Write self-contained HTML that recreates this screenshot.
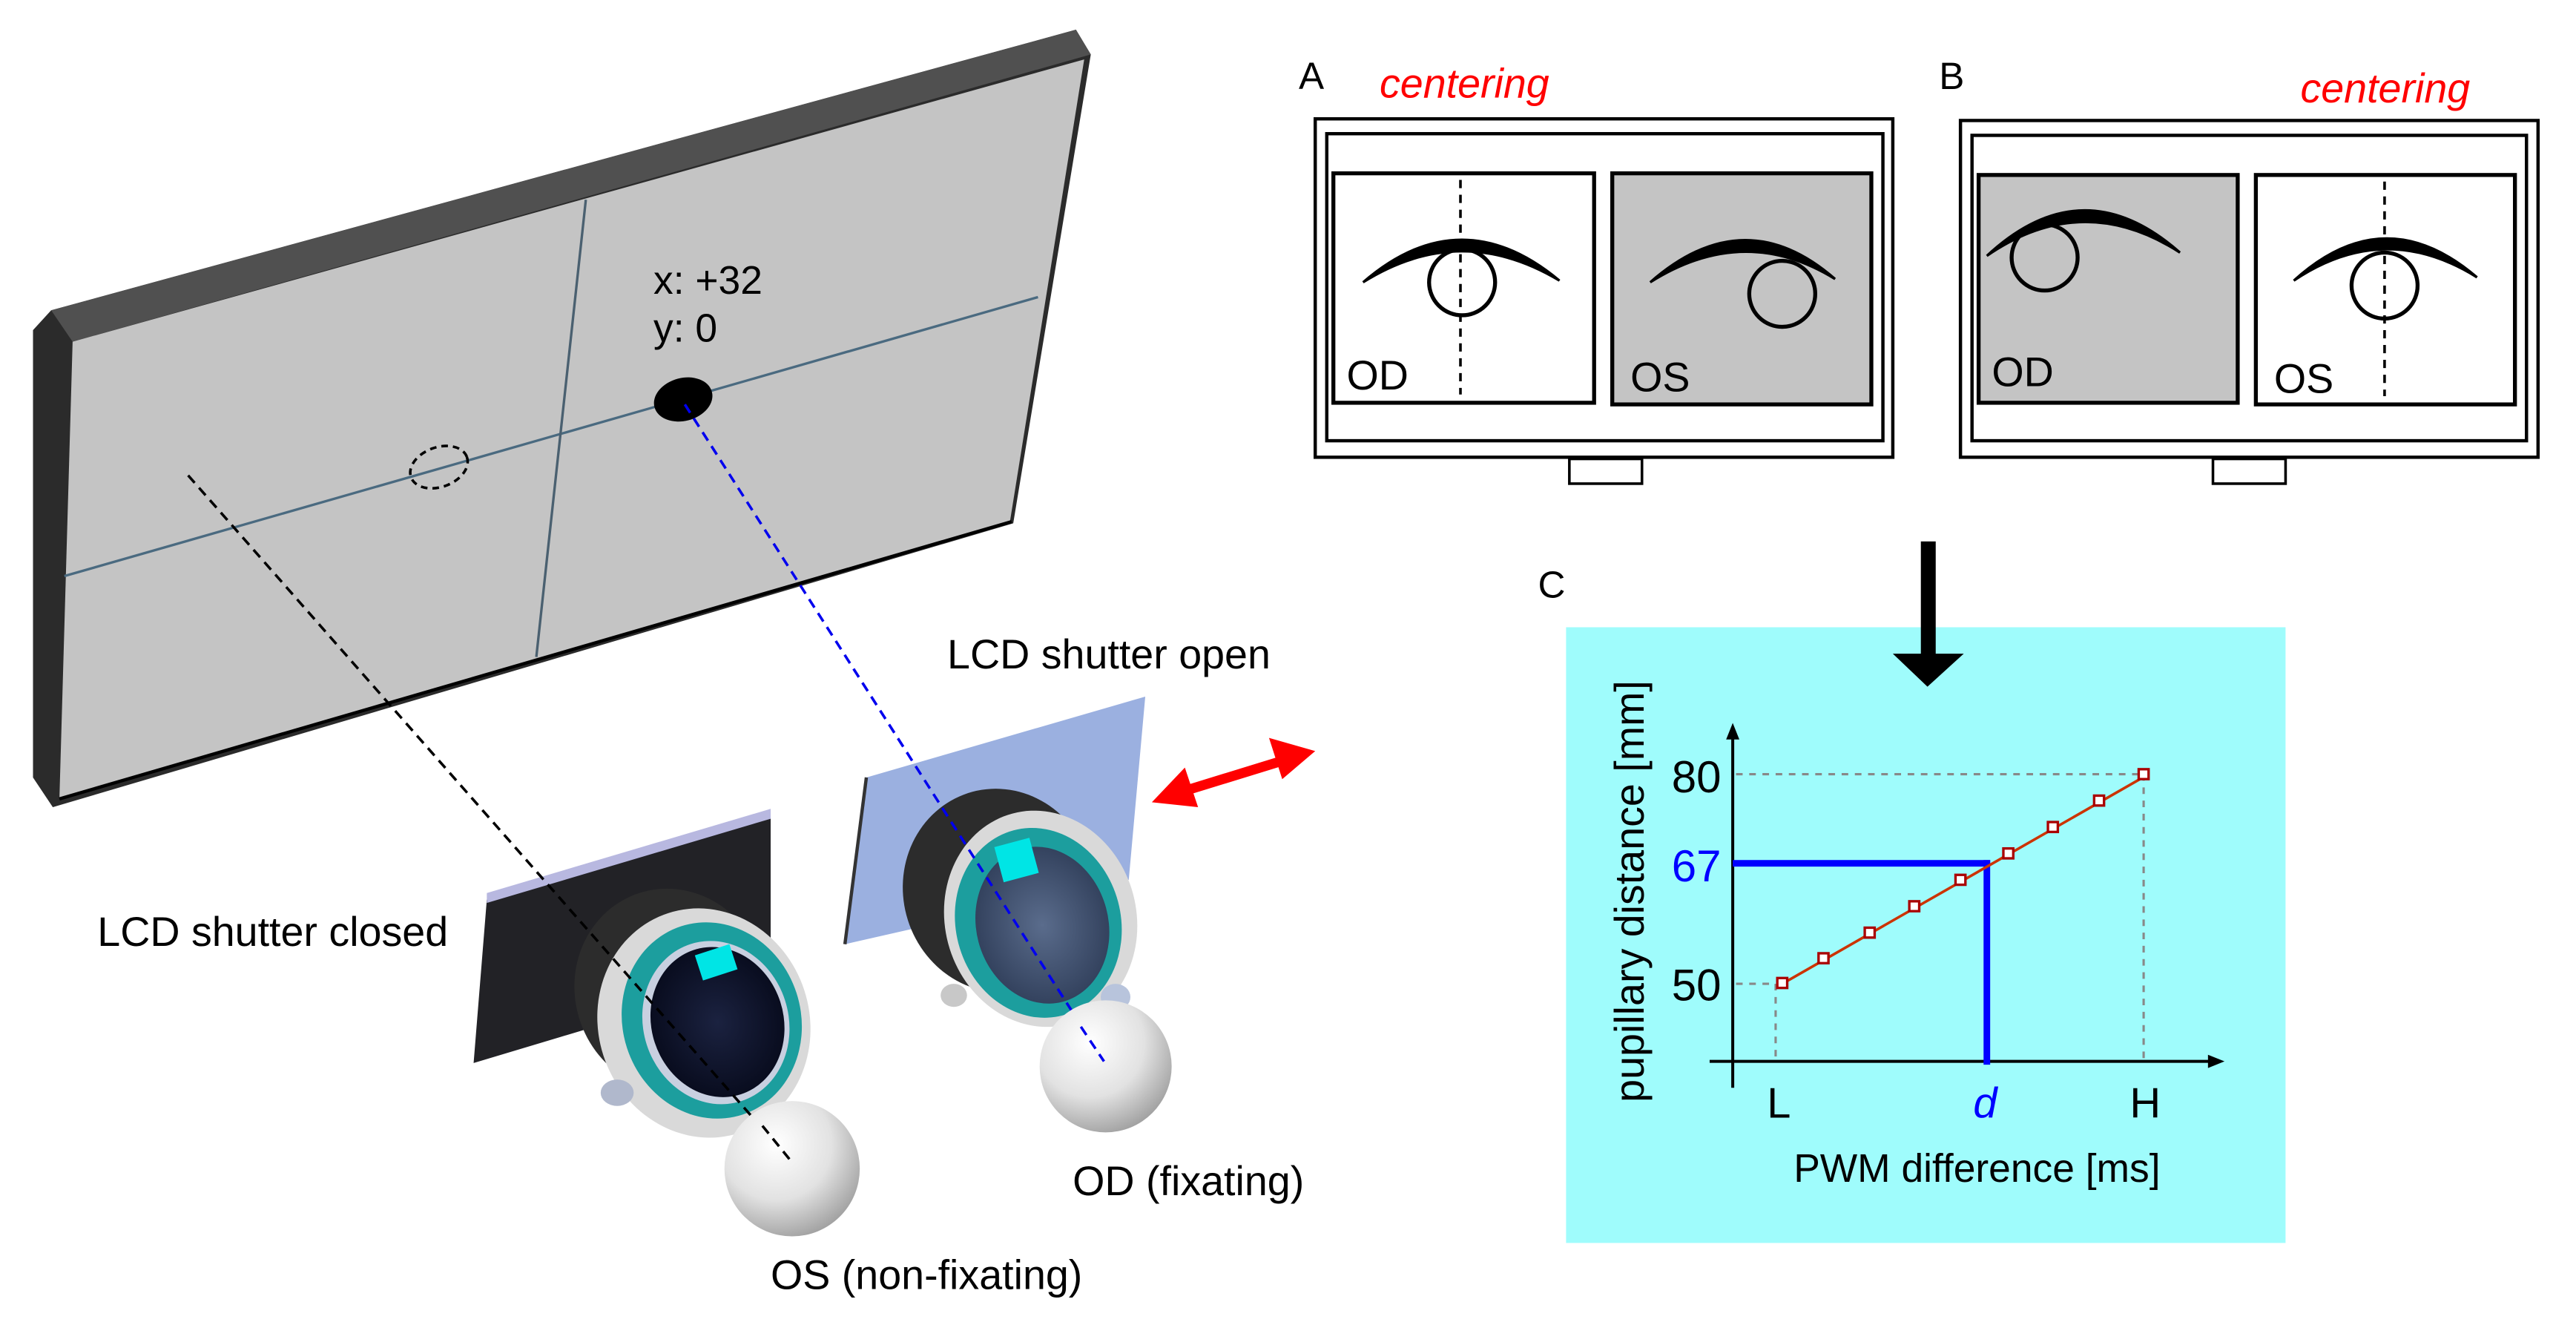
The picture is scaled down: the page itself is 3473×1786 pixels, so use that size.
<!DOCTYPE html>
<html><head><meta charset="utf-8"><style>
html,body{margin:0;padding:0;background:#fff;}
svg{display:block;}
text{font-family:"Liberation Sans",Arial,sans-serif;}
</style></head><body>
<svg width="3473" height="1786" viewBox="0 0 1561 802.7" preserveAspectRatio="none" xmlns="http://www.w3.org/2000/svg">
<defs>
<radialGradient id="ball" cx="0.38" cy="0.32" r="0.75">
<stop offset="0" stop-color="#ffffff"/><stop offset="0.55" stop-color="#e2e2e2"/><stop offset="1" stop-color="#9a9a9a"/>
</radialGradient>
<radialGradient id="lensD" cx="0.5" cy="0.5" r="0.6">
<stop offset="0" stop-color="#1b2240"/><stop offset="1" stop-color="#050818"/>
</radialGradient>
<radialGradient id="lensO" cx="0.5" cy="0.5" r="0.6">
<stop offset="0" stop-color="#5a6c8c"/><stop offset="1" stop-color="#2c3a55"/>
</radialGradient>
</defs>
<rect width="1561" height="803" fill="#fff"/>

<!-- Monitor -->
<polygon points="20,200 31,188 652,18 661,33 614,317 32,489 20,471" fill="#2b2b2b"/>
<polygon points="31,188 652,18 661,33 44,207" fill="#505050"/>
<polygon points="44,207 657,36 612,316 36,484" fill="#c4c4c4"/>
<line x1="36" y1="484" x2="613" y2="316" stroke="#000" stroke-width="2"/>
<line x1="39" y1="349" x2="629" y2="180" stroke="#4a6a80" stroke-width="1.5"/>
<line x1="355" y1="121" x2="325" y2="398" stroke="#4a6070" stroke-width="1.5"/>
<ellipse cx="414" cy="242" rx="18" ry="13" transform="rotate(-15 414 242)" fill="#000"/>
<ellipse cx="266" cy="283" rx="18" ry="12" transform="rotate(-20 266 283)" fill="none" stroke="#000" stroke-width="1.6" stroke-dasharray="4,3"/>
<text x="396" y="178" font-size="24">x: +32</text>
<text x="396" y="207" font-size="24">y: 0</text>

<!-- Closed shutter -->
<polygon points="295,545 467,493 467,590 287,644" fill="#222226"/>
<polygon points="295,541 467,490 467,496 295,547" fill="#b8b8e0"/>
<g transform="rotate(-18 425 615)">
<ellipse cx="412" cy="595" rx="58" ry="62" fill="#2c2c2c"/>
<ellipse cx="425" cy="620" rx="64" ry="70" fill="#d9d9d9"/>
<ellipse cx="430" cy="620" rx="54" ry="60" fill="#1c9e9e"/>
<ellipse cx="432" cy="622" rx="44" ry="50" fill="#c8d0e0"/>
<ellipse cx="433" cy="622" rx="40" ry="46" fill="url(#lensD)"/>
</g>
<rect x="423" y="575" width="22" height="16" fill="#00e5e5" transform="rotate(-18 434 583)"/>
<ellipse cx="374" cy="662" rx="10" ry="8" fill="#b0b8cc"/>

<!-- Open shutter -->
<polygon points="525,471 694,422 684,533 512,572" fill="#9bb0e0"/>
<line x1="525" y1="471" x2="512" y2="572" stroke="#333" stroke-width="2"/>
<g transform="rotate(-15 625 555)">
<ellipse cx="610" cy="535" rx="58" ry="62" fill="#2c2c2c"/>
<ellipse cx="630" cy="558" rx="58" ry="66" fill="#d9d9d9"/>
<ellipse cx="628" cy="560" rx="50" ry="58" fill="#1c9e9e"/>
<ellipse cx="630" cy="562" rx="40" ry="48" fill="url(#lensO)"/>
</g>
<rect x="605" y="510" width="22" height="22" fill="#00e5e5" transform="rotate(-15 616 521)"/>
<ellipse cx="676" cy="604" rx="9" ry="8" fill="#b8c4dc"/>
<ellipse cx="578" cy="603" rx="8" ry="7" fill="#c8c8c8"/>

<!-- dashed sight lines -->
<line x1="114" y1="288" x2="479" y2="703" stroke="#000" stroke-width="1.6" stroke-dasharray="6,4"/>
<line x1="415" y1="245" x2="669" y2="643" stroke="#0000ee" stroke-width="1.6" stroke-dasharray="6,4"/>

<!-- eyeballs -->
<circle cx="480" cy="708" r="41" fill="url(#ball)"/>
<line x1="462" y1="682" x2="479" y2="703" stroke="#000" stroke-width="1.6" stroke-dasharray="6,4"/>
<circle cx="670" cy="646" r="40" fill="url(#ball)"/>
<line x1="655" y1="622" x2="669" y2="643" stroke="#0000ee" stroke-width="1.6" stroke-dasharray="6,4"/>

<!-- red arrow -->
<line x1="715" y1="480" x2="780" y2="460" stroke="#ff0000" stroke-width="6"/>
<polygon points="698,486 718,465 726,489" fill="#ff0000"/>
<polygon points="797,455 769,447 777,472" fill="#ff0000"/>

<text x="574" y="405" font-size="25">LCD shutter open</text>
<text x="59" y="573" font-size="25">LCD shutter closed</text>
<text x="650" y="724" font-size="25">OD (fixating)</text>
<text x="467" y="781" font-size="25">OS (non-fixating)</text>

<!-- Panel A -->
<text x="787" y="54" font-size="23">A</text>
<text x="836" y="59" font-size="25" font-style="italic" fill="#ff0000">centering</text>
<rect x="797" y="72" width="350" height="205" fill="#fff" stroke="#000" stroke-width="2"/>
<rect x="804" y="81" width="337" height="186" fill="#fff" stroke="#000" stroke-width="2"/>
<rect x="808" y="105" width="158" height="139" fill="#fff" stroke="#000" stroke-width="2.4"/>
<rect x="977" y="105" width="157" height="140" fill="#c4c4c4" stroke="#000" stroke-width="2.4"/>
<rect x="951" y="278" width="44" height="15" fill="#fff" stroke="#000" stroke-width="1.6"/>
<path d="M826,171 Q885,120 945,170 Q885,134 826,171Z" fill="#000" stroke="#000" stroke-width="1.5"/>
<circle cx="886" cy="171" r="20" fill="none" stroke="#000" stroke-width="2.4"/>
<line x1="885" y1="109" x2="885" y2="239" stroke="#000" stroke-width="1.6" stroke-dasharray="5,4"/>
<text x="816" y="236" font-size="25">OD</text>
<path d="M1000,171 Q1057,121 1112,169 Q1057,135 1000,171Z" fill="#000" stroke="#000" stroke-width="1.5"/>
<circle cx="1080" cy="178" r="20" fill="none" stroke="#000" stroke-width="2.4"/>
<text x="988" y="237" font-size="25">OS</text>

<!-- Panel B -->
<text x="1175" y="54" font-size="23">B</text>
<text x="1394" y="62" font-size="25" font-style="italic" fill="#ff0000">centering</text>
<rect x="1188" y="73" width="350" height="204" fill="#fff" stroke="#000" stroke-width="2"/>
<rect x="1195" y="82" width="336" height="185" fill="#fff" stroke="#000" stroke-width="2"/>
<rect x="1199" y="106" width="157" height="138" fill="#c4c4c4" stroke="#000" stroke-width="2.4"/>
<rect x="1367" y="106" width="157" height="139" fill="#fff" stroke="#000" stroke-width="2.4"/>
<rect x="1341" y="278" width="44" height="15" fill="#fff" stroke="#000" stroke-width="1.6"/>
<path d="M1204,155 Q1262,101 1321,153 Q1262,115 1204,155Z" fill="#000" stroke="#000" stroke-width="1.5"/>
<circle cx="1239" cy="156" r="20" fill="none" stroke="#000" stroke-width="2.4"/>
<text x="1207" y="234" font-size="25">OD</text>
<path d="M1390,170 Q1445,120 1501,168 Q1445,133 1390,170Z" fill="#000" stroke="#000" stroke-width="1.5"/>
<circle cx="1445" cy="173" r="20" fill="none" stroke="#000" stroke-width="2.4"/>
<line x1="1445" y1="110" x2="1445" y2="240" stroke="#000" stroke-width="1.6" stroke-dasharray="5,4"/>
<text x="1378" y="238" font-size="25">OS</text>

<!-- Panel C -->
<text x="932" y="362" font-size="23">C</text>
<rect x="949" y="380" width="436" height="373" fill="#9ffcfc"/>
<rect x="1164" y="328" width="9" height="70" fill="#000"/>
<polygon points="1147,396 1190,396 1168,416" fill="#000"/>

<line x1="1050" y1="445" x2="1050" y2="659" stroke="#000" stroke-width="1.8"/>
<polygon points="1050,438 1046,448 1054,448" fill="#000"/>
<line x1="1036" y1="643" x2="1340" y2="643" stroke="#000" stroke-width="1.8"/>
<polygon points="1348,643 1338,639 1338,647" fill="#000"/>
<g stroke="#888" stroke-width="1.4" stroke-dasharray="4,4" fill="none">
<line x1="1052" y1="469" x2="1299" y2="469"/>
<line x1="1299" y1="469" x2="1299" y2="641"/>
<line x1="1052" y1="596" x2="1076" y2="596"/>
<line x1="1076" y1="596" x2="1076" y2="641"/>
</g>
<line x1="1050" y1="523" x2="1206" y2="523" stroke="#0000ff" stroke-width="4"/>
<line x1="1204" y1="521" x2="1204" y2="645" stroke="#0000ff" stroke-width="4"/>
<line x1="1080" y1="596" x2="1302" y2="469" stroke="#cc3300" stroke-width="1.6"/>
<g fill="#fff" stroke="#aa0000" stroke-width="1.5">
<rect x="1077" y="592.5" width="6" height="6"/>
<rect x="1102" y="577.5" width="6" height="6"/>
<rect x="1130" y="562" width="6" height="6"/>
<rect x="1157" y="546" width="6" height="6"/>
<rect x="1185" y="530" width="6" height="6"/>
<rect x="1214" y="514" width="6" height="6"/>
<rect x="1241" y="498" width="6" height="6"/>
<rect x="1269" y="482" width="6" height="6"/>
<rect x="1296" y="466" width="6" height="6"/>
</g>
<text x="1043" y="480" font-size="27" text-anchor="end">80</text>
<text x="1043" y="534" font-size="27" text-anchor="end" fill="#0000ff">67</text>
<text x="1043" y="606" font-size="27" text-anchor="end">50</text>
<text x="1078" y="677" font-size="26" text-anchor="middle">L</text>
<text x="1203" y="677" font-size="26" text-anchor="middle" font-style="italic" fill="#0000ff">d</text>
<text x="1300" y="677" font-size="26" text-anchor="middle">H</text>
<text x="1198" y="716" font-size="24" text-anchor="middle">PWM difference [ms]</text>
<text transform="translate(996,540) rotate(-90)" font-size="25" text-anchor="middle">pupillary distance [mm]</text>
</svg>
</body></html>
